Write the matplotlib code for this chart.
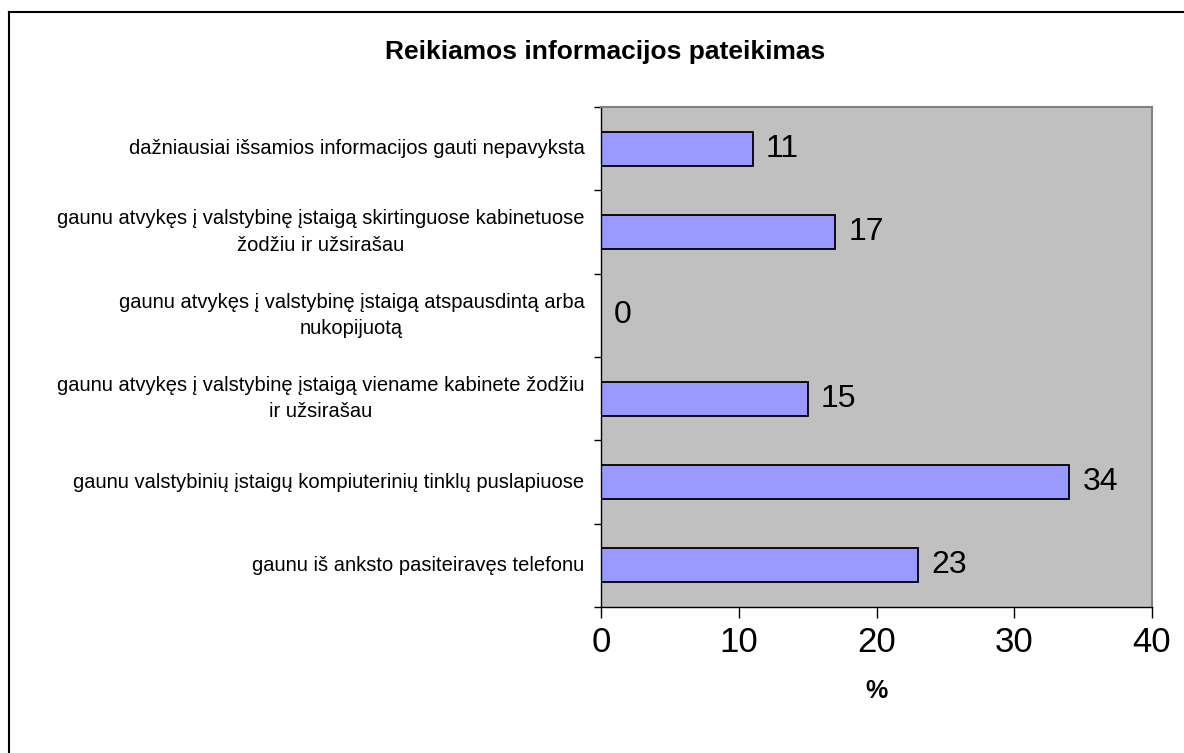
import matplotlib.pyplot as plt
from matplotlib.lines import Line2D

plt.rcParams['font.family'] = ['Liberation Sans', 'DejaVu Sans']

# Data (bottom to top as drawn)
categories = [
    "gaunu iš anksto pasiteiravęs telefonu",
    "gaunu valstybinių įstaigų kompiuterinių tinklų puslapiuose",
    "gaunu atvykęs į valstybinę įstaigą viename kabinete žodžiu\nir užsirašau",
    "gaunu atvykęs į valstybinę įstaigą atspausdintą arba\nnukopijuotą",
    "gaunu atvykęs į valstybinę įstaigą skirtinguose kabinetuose\nžodžiu ir užsirašau",
    "dažniausiai išsamios informacijos gauti nepavyksta",
]
values = [23, 34, 15, 0, 17, 11]
x_ticks = [0, 10, 20, 30, 40]

W, H = 1184, 753
fig = plt.figure(figsize=(W / 100, H / 100), dpi=100)
fig.patch.set_facecolor('white')

ax = fig.add_axes([601 / W, 1 - 607 / H, (1152 - 601) / W, (607 - 107) / H])
ax.set_facecolor('#c0c0c0')

y = list(range(len(categories)))
ax.barh(y, values, height=0.41, color='#9999ff', edgecolor='black', linewidth=1.3)

for yi, v in zip(y, values):
    ax.text(v + 0.95, yi, str(v), va='center', ha='left', fontsize=23)

ax.set_xlim(0, 40)
ax.set_ylim(-0.5, len(categories) - 0.5)
ax.set_xticks(x_ticks)
ax.set_xticklabels([str(t) for t in x_ticks], fontsize=25)
ax.tick_params(axis='x', direction='out', length=8, width=1, pad=6)

# category boundary ticks on the y axis, labels centered between them
ax.set_yticks([i - 0.5 for i in range(len(categories) + 1)])
ax.set_yticklabels([])
ax.tick_params(axis='y', direction='out', length=5, width=1)
for yi, lab in zip(y, categories):
    ax.text(-0.03, yi, lab, transform=ax.get_yaxis_transform(), ha='right', va='center',
            multialignment='center', fontsize=14.5, linespacing=1.5)

for side in ['left', 'bottom']:
    ax.spines[side].set_color('black')
    ax.spines[side].set_linewidth(1)
for side in ['top', 'right']:
    ax.spines[side].set_color('#808080')
    ax.spines[side].set_linewidth(1.5)

ax.set_xlabel('%', fontsize=18, fontweight='bold', labelpad=14)

fig.text(605 / W, 1 - 52 / H, 'Reikiamos informacijos pateikimas', ha='center', va='center',
         fontsize=19, fontweight='bold')

# outer chart border (left and top edges visible)
fig.add_artist(Line2D([8.5 / W, 8.5 / W], [0, 1 - 12 / H], transform=fig.transFigure,
                      color='black', linewidth=1.5))
fig.add_artist(Line2D([8.5 / W, 1], [1 - 12 / H, 1 - 12 / H], transform=fig.transFigure,
                      color='black', linewidth=1.5))

fig.savefig('out.png', dpi=100)
